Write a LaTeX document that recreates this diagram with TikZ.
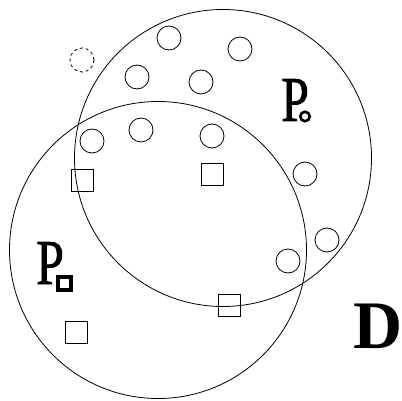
\documentclass[tikz,border=0pt]{standalone}
\usepackage{fontspec}
\setmainfont{Liberation Serif}
\newfontfamily\pfont[FakeBold=1.2]{Liberation Serif}
\begin{document}
\begin{tikzpicture}[x=1pt,y=-1pt,
  bigc/.style={circle,draw,line width=0.8pt,inner sep=0pt,minimum size=#1},
  smallc/.style={circle,draw,line width=0.8pt,inner sep=0pt,minimum size=24pt},
  sq/.style={rectangle,draw,line width=0.8pt,inner sep=0pt,minimum size=22pt},
  lbl/.style={inner sep=0pt,anchor=base west,font=\pfont\fontsize{64}{64}\selectfont}]
\useasboundingbox (0,0) rectangle (402,401);
\node[bigc=297pt] (U) at (223,158) {};
\node[bigc=297pt] (L) at (158,250) {};
\node[smallc] (c1) at (169,38) {};
\node[smallc] (c2) at (240,49) {};
\node[smallc] (c3) at (137,77) {};
\node[smallc] (c4) at (201,82) {};
\node[smallc,dashed] (c0) at (82,60) {};
\node[smallc] (c5) at (92,141) {};
\node[smallc] (c6) at (141,130) {};
\node[smallc] (c7) at (212,136) {};
\node[smallc] (c8) at (305,174) {};
\node[smallc] (c9) at (327,240) {};
\node[smallc] (c10) at (288,261) {};
\node[sq] (s1) at (82,180) {};
\node[sq] (s2) at (212,174) {};
\node[sq] (s3) at (229,305) {};
\node[sq] (s4) at (76,332) {};
\node[lbl] (P1) at (281,121) {\scalebox{0.78}[1]{P}};
\node[circle,draw,line width=2.6pt,inner sep=0pt,minimum size=9.5pt] (p1s) at (305,116.5) {};
\node[lbl] (P2) at (36,284) {\scalebox{0.78}[1]{P}};
\node[rectangle,draw,line width=3.2pt,inner sep=0pt,minimum size=13pt] (p2s) at (64.5,283.5) {};
\node[inner sep=0pt,anchor=base west,font=\fontsize{68}{68}\selectfont\bfseries] (D) at (353,348) {D};
\end{tikzpicture}
\end{document}
